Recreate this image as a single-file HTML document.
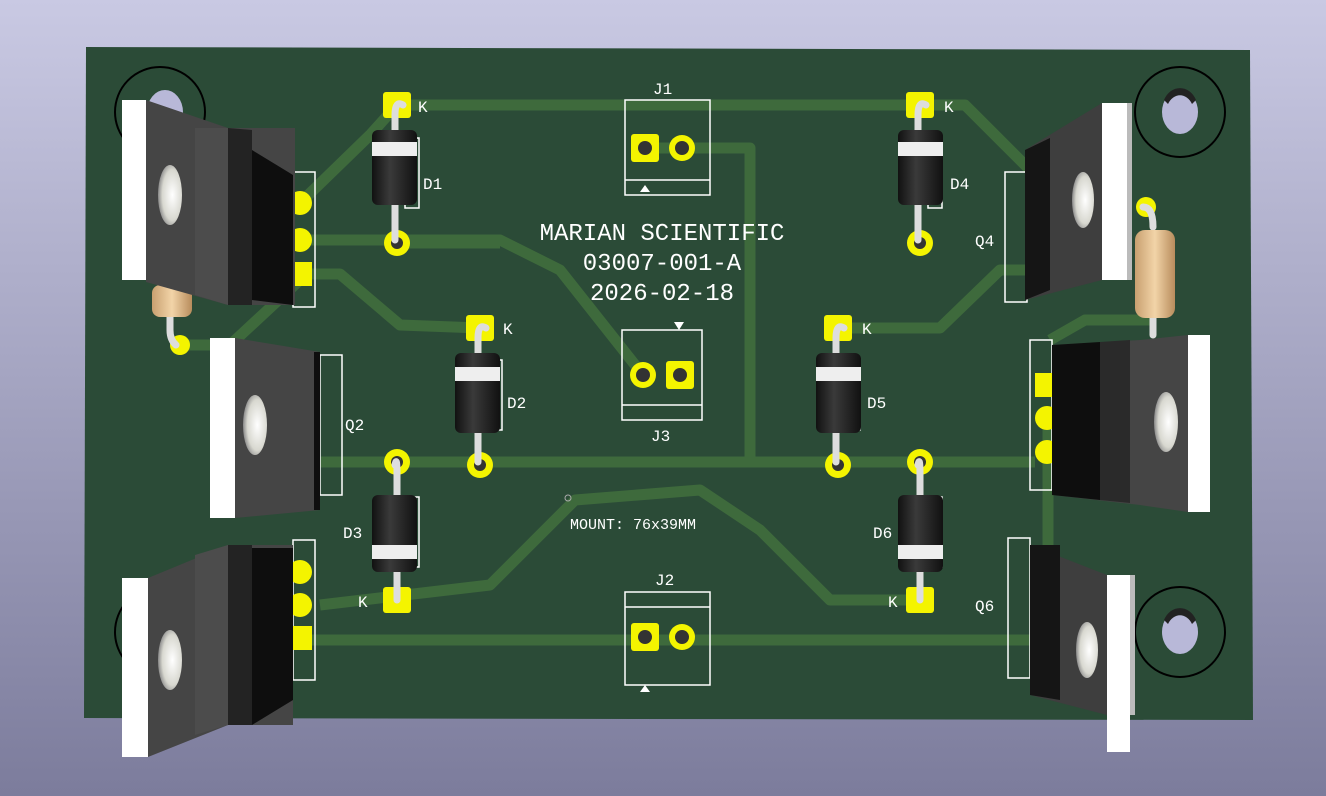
<!DOCTYPE html>
<html><head><style>
html,body{margin:0;padding:0;}
body{width:1326px;height:796px;overflow:hidden;background:linear-gradient(#c9c9e3,#7c7c9c);}
svg{display:block}
text{font-family:"Liberation Mono","DejaVu Sans Mono",monospace;fill:#fff}
</style></head><body>
<svg width="1326" height="796" viewBox="0 0 1326 796" xmlns="http://www.w3.org/2000/svg">
<defs>
<radialGradient id="hole" cx="0.6" cy="0.5" r="0.6"><stop offset="0" stop-color="#fff"/><stop offset="0.7" stop-color="#d8d8d0"/><stop offset="1" stop-color="#888"/></radialGradient>
<linearGradient id="band" x1="0" x2="1"><stop offset="0" stop-color="#111"/><stop offset="0.4" stop-color="#3a3a3a"/><stop offset="1" stop-color="#111"/></linearGradient>
<linearGradient id="res" x1="0" x2="1"><stop offset="0" stop-color="#c9a070"/><stop offset="0.5" stop-color="#f2d4a8"/><stop offset="1" stop-color="#b88c5c"/></linearGradient>
</defs>
<polygon points="86,47 1250,50 1253,720 84,718" fill="#2b4b37"/>
<!-- traces -->
<g stroke="#3e6a3c" stroke-width="11" fill="none" stroke-linejoin="round">
<polyline points="300,203 370,135 397,105 930,105 965,105 1030,170"/>
<polyline points="300,240 500,240 560,270 643,375"/>
<polyline points="300,274 340,274 400,325 480,328"/>
<polyline points="397,243 500,243"/>
<polyline points="645,148 750,148 750,462"/>
<polyline points="320,462 1035,462"/>
<polyline points="838,328 940,328 1000,270 1030,270"/>
<polyline points="920,600 920,600 830,600 760,530 700,490 575,500 490,585 320,605"/>
<polyline points="300,640 1035,640"/>
<polyline points="172,345 230,345 300,280"/>
<polyline points="1150,320 1085,320 1050,340"/>
<polyline points="1048,420 1048,560"/>
</g>
<!-- mounting hole circles -->
<g fill="none" stroke="#000" stroke-width="2">
<circle cx="160" cy="112" r="45"/><circle cx="1180" cy="112" r="45"/><circle cx="1180" cy="632" r="45"/><circle cx="160" cy="632" r="45"/>
</g>
<g fill="#b8b8d8"><ellipse cx="1180" cy="112" rx="18" ry="22"/><ellipse cx="1180" cy="632" rx="18" ry="22"/><ellipse cx="165" cy="112" rx="18" ry="22"/></g>
<g fill="#222"><path d="M1164,100 a18,22 0 0 1 32,0 l-4,4 a14,18 0 0 0 -24,0z"/><path d="M1164,620 a18,22 0 0 1 32,0 l-4,4 a14,18 0 0 0 -24,0z"/></g>
<!-- silkscreen boxes -->
<g fill="none" stroke="#fff" stroke-width="1.5">
<rect x="293" y="172" width="22" height="135"/><rect x="320" y="355" width="22" height="140"/><rect x="293" y="540" width="22" height="140"/>
<rect x="1005" y="172" width="22" height="130"/><rect x="1030" y="340" width="22" height="150"/><rect x="1008" y="538" width="22" height="140"/>
<rect x="625" y="100" width="85" height="95"/><line x1="625" y1="180" x2="710" y2="180"/>
<rect x="622" y="330" width="80" height="90"/><line x1="622" y1="405" x2="702" y2="405"/>
<rect x="625" y="592" width="85" height="93"/><line x1="625" y1="607" x2="710" y2="607"/>
<rect x="405" y="138" width="14" height="70"/><rect x="488" y="360" width="14" height="70"/><rect x="405" y="497" width="14" height="70"/>
<rect x="928" y="138" width="14" height="70"/><rect x="846" y="360" width="14" height="70"/><rect x="928" y="497" width="14" height="70"/>
</g>
<g fill="#fff"><polygon points="640,192 650,192 645,185"/><polygon points="674,322 684,322 679,330"/><polygon points="640,692 650,692 645,685"/></g>
<!-- pads -->
<g fill="#f4f400">
<rect x="383" y="92" width="28" height="26" rx="3"/><circle cx="397" cy="243" r="13"/>
<rect x="466" y="315" width="28" height="26" rx="3"/><circle cx="480" cy="465" r="13"/>
<circle cx="397" cy="462" r="13"/><rect x="383" y="587" width="28" height="26" rx="3"/>
<rect x="906" y="92" width="28" height="26" rx="3"/><circle cx="920" cy="243" r="13"/>
<rect x="824" y="315" width="28" height="26" rx="3"/><circle cx="838" cy="465" r="13"/>
<circle cx="920" cy="462" r="13"/><rect x="906" y="587" width="28" height="26" rx="3"/>
<rect x="631" y="134" width="28" height="28" rx="3"/><circle cx="682" cy="148" r="13"/>
<circle cx="643" cy="375" r="13"/><rect x="666" y="361" width="28" height="28" rx="3"/>
<rect x="631" y="623" width="28" height="28" rx="3"/><circle cx="682" cy="637" r="13"/>
<circle cx="300" cy="203" r="12"/><circle cx="300" cy="240" r="12"/><rect x="288" y="262" width="24" height="24"/>
<circle cx="300" cy="572" r="12"/><circle cx="300" cy="605" r="12"/><rect x="288" y="626" width="24" height="24"/>
<rect x="1035" y="373" width="24" height="24"/><circle cx="1047" cy="418" r="12"/><circle cx="1047" cy="452" r="12"/>
<circle cx="180" cy="345" r="10"/><circle cx="1146" cy="207" r="10"/>
</g>
<g fill="#333"><circle cx="645" cy="148" r="7"/><circle cx="682" cy="148" r="7"/><circle cx="643" cy="375" r="7"/><circle cx="680" cy="375" r="7"/><circle cx="645" cy="637" r="7"/><circle cx="682" cy="637" r="7"/><circle cx="397" cy="243" r="6"/><circle cx="480" cy="465" r="6"/><circle cx="397" cy="462" r="6"/><circle cx="920" cy="243" r="6"/><circle cx="838" cy="465" r="6"/><circle cx="920" cy="462" r="6"/></g>
<!-- diodes -->
<g stroke="#ddd" stroke-width="7" fill="none" stroke-linecap="round">
<path d="M403,105 q-8,-5 -8,10 V240"/><path d="M486,328 q-8,-5 -8,10 V462"/><path d="M395,465 q2,-10 2,10 V600"/>
<path d="M926,105 q-8,-5 -8,10 V240"/><path d="M844,328 q-8,-5 -8,10 V462"/><path d="M918,465 q2,-10 2,10 V600"/>
<path d="M176,345 q-6,-5 -6,-15 V310"/><path d="M1143,207 q10,0 10,20"/><path d="M1153,315 V335"/>
</g>
<g>
<rect x="372" y="130" width="45" height="75" rx="6" fill="url(#band)"/><rect x="372" y="142" width="45" height="14" fill="#eee"/>
<rect x="455" y="353" width="45" height="80" rx="6" fill="url(#band)"/><rect x="455" y="367" width="45" height="14" fill="#eee"/>
<rect x="372" y="495" width="45" height="77" rx="6" fill="url(#band)"/><rect x="372" y="545" width="45" height="14" fill="#eee"/>
<rect x="898" y="130" width="45" height="75" rx="6" fill="url(#band)"/><rect x="898" y="142" width="45" height="14" fill="#eee"/>
<rect x="816" y="353" width="45" height="80" rx="6" fill="url(#band)"/><rect x="816" y="367" width="45" height="14" fill="#eee"/>
<rect x="898" y="495" width="45" height="77" rx="6" fill="url(#band)"/><rect x="898" y="545" width="45" height="14" fill="#eee"/>
<rect x="152" y="285" width="40" height="32" rx="8" fill="url(#res)"/>
<rect x="1135" y="230" width="40" height="88" rx="10" fill="url(#res)"/>
</g>
<!-- transistors left-facing -->
<g>
<polygon points="146,100 228,128 295,128 295,305 228,305 146,282" fill="#454545"/>
<polygon points="228,128 252,130 252,305 228,305" fill="#232323"/><polygon points="252,150 293,175 293,305 252,300" fill="#0e0e0e"/>
<polygon points="195,128 228,128 228,305 195,295" fill="#4c4c4c"/>
<rect x="122" y="100" width="24" height="180" fill="#fff"/>
<ellipse cx="170" cy="195" rx="12" ry="30" fill="url(#hole)"/>
</g>
<g>
<polygon points="235,338 320,352 320,510 235,518" fill="#454545"/><rect x="314" y="352" width="6" height="158" fill="#0e0e0e"/>
<rect x="210" y="338" width="25" height="180" fill="#fff"/>
<ellipse cx="255" cy="425" rx="12" ry="30" fill="url(#hole)"/>
</g>
<g>
<polygon points="148,578 228,545 293,545 293,725 228,725 148,757" fill="#454545"/>
<polygon points="228,545 252,545 252,725 228,725" fill="#232323"/><polygon points="252,548 293,548 293,700 252,725" fill="#0e0e0e"/>
<polygon points="195,555 228,545 228,725 195,735" fill="#4c4c4c"/>
<rect x="122" y="578" width="26" height="179" fill="#fff"/>
<ellipse cx="170" cy="660" rx="12" ry="30" fill="url(#hole)"/>
</g>
<!-- right-facing -->
<g>
<polygon points="1102,103 1025,150 1025,300 1102,280" fill="#3e3e3e"/><polygon points="1025,150 1050,138 1050,290 1025,300" fill="#151515"/>
<rect x="1102" y="103" width="25" height="177" fill="#fff"/><rect x="1127" y="103" width="5" height="177" fill="#bbb"/>
<ellipse cx="1083" cy="200" rx="11" ry="28" fill="url(#hole)"/>
</g>
<g>
<polygon points="1188,335 1140,340 1052,345 1052,495 1140,505 1188,512" fill="#454545"/>
<polygon points="1052,345 1100,342 1100,500 1052,495" fill="#0e0e0e"/><polygon points="1100,342 1130,340 1130,503 1100,500" fill="#2a2a2a"/>
<rect x="1188" y="335" width="22" height="177" fill="#fff"/>
<ellipse cx="1166" cy="422" rx="12" ry="30" fill="url(#hole)"/>
</g>
<g>
<polygon points="1107,575 1030,545 1030,695 1107,715" fill="#3e3e3e"/><polygon points="1030,545 1060,545 1060,700 1030,695" fill="#151515"/>
<rect x="1107" y="575" width="23" height="177" fill="#fff"/><rect x="1130" y="575" width="5" height="140" fill="#bbb"/>
<ellipse cx="1087" cy="650" rx="11" ry="28" fill="url(#hole)"/>
</g>
<!-- labels -->
<g font-size="16">
<text x="423" y="189">D1</text><text x="507" y="408">D2</text><text x="343" y="538">D3</text>
<text x="950" y="189">D4</text><text x="867" y="408">D5</text><text x="873" y="538">D6</text>
<text x="345" y="430">Q2</text><text x="975" y="246">Q4</text><text x="975" y="611">Q6</text>
<text x="653" y="94">J1</text><text x="651" y="441">J3</text><text x="655" y="585">J2</text>
<text x="418" y="112">K</text><text x="503" y="334">K</text><text x="358" y="607">K</text>
<text x="944" y="112">K</text><text x="862" y="334">K</text><text x="888" y="607">K</text>
</g>
<g font-size="24" text-anchor="middle">
<text x="662" y="240">MARIAN SCIENTIFIC</text><text x="662" y="270">03007-001-A</text><text x="662" y="300">2026-02-18</text>
</g>
<text x="570" y="529" font-size="15">MOUNT: 76x39MM</text>
<circle cx="568" cy="498" r="3" fill="none" stroke="#aaa"/>
</svg>
</body></html>
